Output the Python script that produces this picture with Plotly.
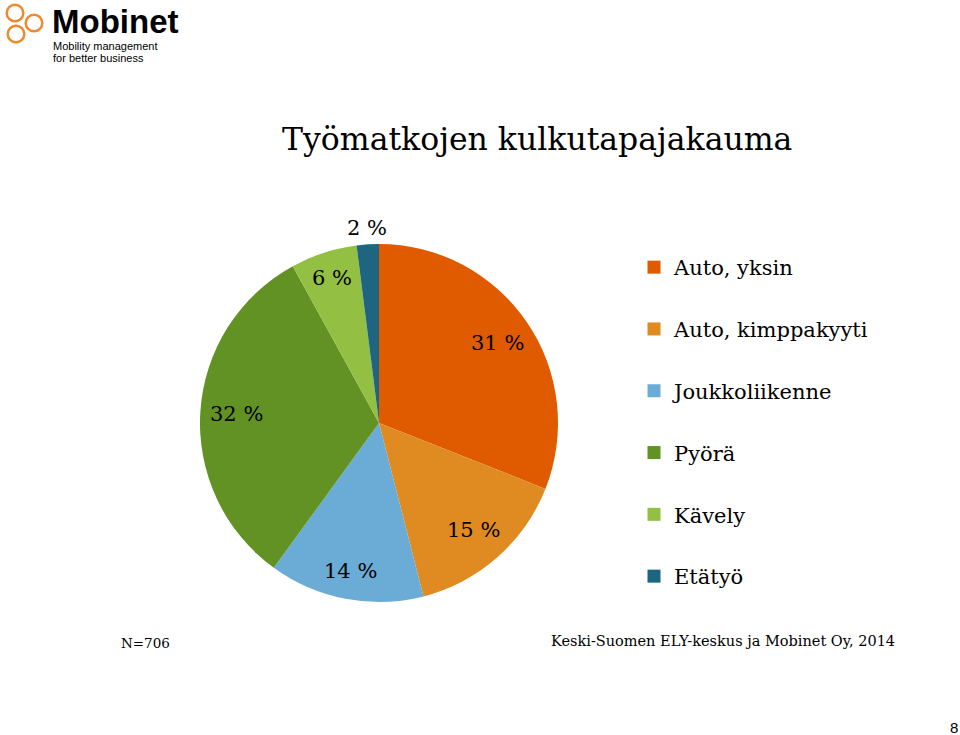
import math
import plotly.graph_objects as go

categories = ["Auto, yksin", "Auto, kimppakyyti", "Joukkoliikenne", "Pyörä", "Kävely", "Etätyö"]
shares = [31, 15, 14, 32, 6, 2]
colors = ["#E05A00", "#E08A22", "#6AACD6", "#619223", "#93C042", "#1D6580"]
label_radius = [0.80, 0.80, 0.84, 0.80, 0.85, 1.09]  # fraction of pie radius

title_text = "Työmatkojen kulkutapajakauma"
sample_note = "N=706"
source_note = "Keski-Suomen ELY-keskus ja Mobinet Oy, 2014"
page_no = "8"

W, H = 960, 735
SERIF = "DejaVu Serif"

# pie placement (pixels)
PX0, PX1, PY0, PY1 = 200, 558, 244, 602
CX, CY, R = (PX0 + PX1) / 2, (PY0 + PY1) / 2, (PX1 - PX0) / 2

fig = go.Figure()

fig.add_trace(go.Pie(
    labels=categories,
    values=shares,
    sort=False,
    direction="clockwise",
    rotation=0,
    marker=dict(colors=colors, line=dict(width=0)),
    textinfo="none",
    domain=dict(x=[PX0 / W, PX1 / W], y=[1 - PY1 / H, 1 - PY0 / H]),
    showlegend=False,
    hoverinfo="label+percent",
))

# slice labels placed at each slice's mid angle, derived from the data
annotations = []
total = sum(shares)
cum = 0
for v, rf in zip(shares, label_radius):
    mid = (cum + v / 2) / total * 2 * math.pi
    cum += v
    x = CX + rf * R * math.sin(mid)
    y = CY - rf * R * math.cos(mid)
    annotations.append(dict(text=f"{v} %", x=x / W, y=1 - y / H, xref="paper", yref="paper",
                            showarrow=False, font=dict(family=SERIF, size=21, color="black"),
                            xanchor="center", yanchor="middle"))

# legend entries as separate groups for wide spacing
for i, (c, col) in enumerate(zip(categories, colors)):
    fig.add_trace(go.Scatter(
        x=[None], y=[None], mode="markers",
        marker=dict(symbol="square", size=13, color=col),
        name=c, legendgroup=f"g{i}", showlegend=True,
    ))

annotations += [
    dict(text=title_text, x=537 / W, y=1 - 139 / H, xref="paper", yref="paper",
         showarrow=False, font=dict(family=SERIF, size=31.5, color="black"),
         xanchor="center", yanchor="middle"),
    dict(text=sample_note, x=119 / W, y=1 - 643 / H, xref="paper", yref="paper",
         showarrow=False, font=dict(family=SERIF, size=13.5, color="black"),
         xanchor="left", yanchor="middle"),
    dict(text=source_note, x=897 / W, y=1 - 641 / H, xref="paper", yref="paper",
         showarrow=False, font=dict(family=SERIF, size=14.5, color="black"),
         xanchor="right", yanchor="middle"),
    dict(text=page_no, x=954 / W, y=1 - 727 / H, xref="paper", yref="paper",
         showarrow=False, font=dict(family="Liberation Sans", size=15, color="black"),
         xanchor="center", yanchor="middle"),
    dict(text="<b>Mobinet</b>", x=50 / W, y=1 - 21 / H, xref="paper", yref="paper",
         showarrow=False, font=dict(family="Liberation Sans", size=33, color="black"),
         xanchor="left", yanchor="middle"),
    dict(text="Mobility management", x=51 / W, y=1 - 46 / H, xref="paper", yref="paper",
         showarrow=False, font=dict(family="Liberation Sans", size=11, color="black"),
         xanchor="left", yanchor="middle"),
    dict(text="for better business", x=51 / W, y=1 - 58 / H, xref="paper", yref="paper",
         showarrow=False, font=dict(family="Liberation Sans", size=11, color="black"),
         xanchor="left", yanchor="middle"),
]

fig.update_layout(
    width=W, height=H,
    margin=dict(l=0, r=0, t=0, b=0),
    paper_bgcolor="white", plot_bgcolor="white",
    xaxis=dict(visible=False), yaxis=dict(visible=False),
    legend=dict(
        x=634 / W, y=1 - 247 / H, xanchor="left", yanchor="top",
        font=dict(family=SERIF, size=21, color="black"),
        tracegroupgap=31.5, itemwidth=30,
        bgcolor="rgba(0,0,0,0)",
    ),
    annotations=annotations,
)

# logo rings
ring_centers = [(15, 13), (34, 23), (16, 34)]
shapes = []
for cx, cy in ring_centers:
    r = 8.3
    shapes.append(dict(type="circle", xref="paper", yref="paper",
                       x0=(cx - r) / W, x1=(cx + r) / W,
                       y0=1 - (cy + r) / H, y1=1 - (cy - r) / H,
                       line=dict(color="#EB8A2E", width=2.5), fillcolor="rgba(0,0,0,0)"))
fig.update_layout(shapes=shapes)

fig.write_html("out.html")
